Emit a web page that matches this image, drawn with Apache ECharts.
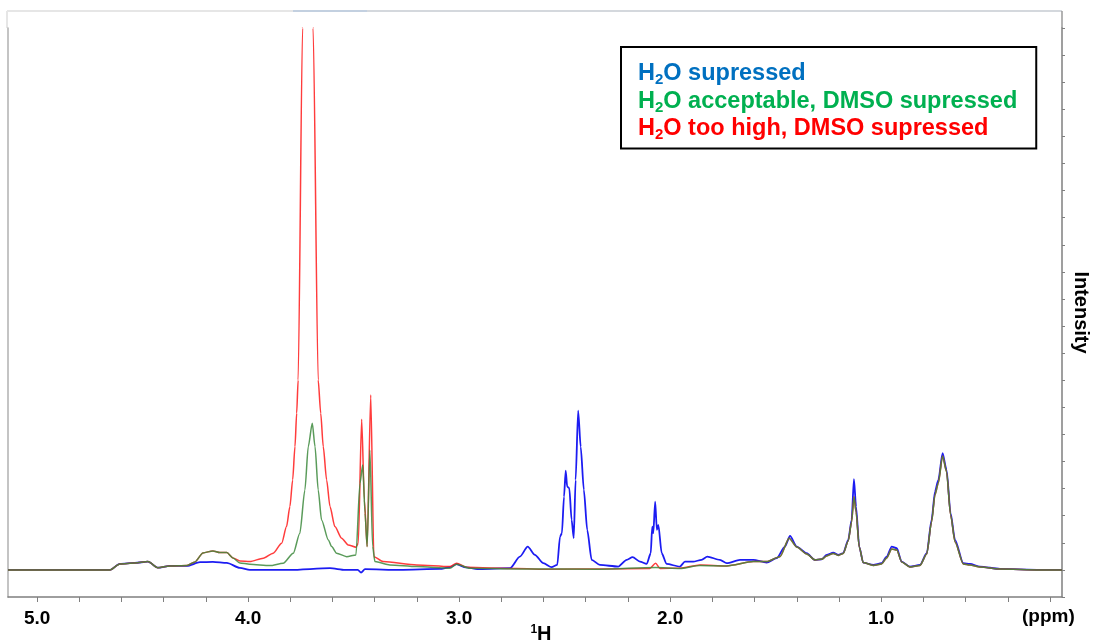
<!DOCTYPE html>
<html>
<head>
<meta charset="utf-8">
<script src="https://cdn.jsdelivr.net/npm/echarts@6/dist/echarts.min.js"></script>
<style>
html,body{margin:0;padding:0;background:#fff;}
#chart{width:1093px;height:642px;}
</style>
</head>
<body>
<div id="chart"></div>
<script>
// x: chemical shift (ppm), y: intensity (arbitrary units)
var xTickLabels = [1, 2, 3, 4, 5];
var xMinorTicks = [0.2,0.4,0.6,0.8,1.0,1.2,1.4,1.6,1.8,2.0,2.2,2.4,2.6,2.8,3.0,3.2,3.4,3.6,3.8,4.0,4.2,4.4,4.6,4.8,5.0];
var seriesNames = ['H2O supressed', 'H2O acceptable, DMSO supressed', 'H2O too high, DMSO supressed'];

var blueData = [[5.138,0],[4.892,0],[4.655,0],[4.608,1.11],[4.537,1.29],[4.475,1.53],[4.428,0.42],[4.371,0.74],[4.290,0.74],[4.228,1.42],[4.167,1.48],[4.101,1.29],[4.039,0.37],[3.992,0],[3.802,0],[3.612,0.31],[3.541,0],[3.480,0],[3.465,-0.5],[3.446,0.13],[3.281,0],[3.091,0.18],[3.044,0.5],[3.012,1.05],[2.968,0.46],[2.901,0.13],[2.759,0.31],[2.712,2.45],[2.675,4.30],[2.641,2.77],[2.601,1.24],[2.562,0.50],[2.535,0.92],[2.522,6.14],[2.513,6.77],[2.503,13.52],[2.495,18.32],[2.488,15.37],[2.478,15.07],[2.467,9.23],[2.457,5.85],[2.448,16.61],[2.436,29.39],[2.424,22.75],[2.409,14.76],[2.393,7.38],[2.372,1.85],[2.333,0.92],[2.246,0.61],[2.206,1.85],[2.178,2.34],[2.143,1.53],[2.111,1.11],[2.092,3.08],[2.085,7.99],[2.080,6.77],[2.071,12.60],[2.063,7.38],[2.056,8.30],[2.040,3.08],[2.017,1.11],[1.954,0.61],[1.930,1.53],[1.891,1.53],[1.851,1.85],[1.824,2.45],[1.764,1.85],[1.732,1.24],[1.669,1.85],[1.606,1.85],[1.543,1.35],[1.495,2.16],[1.456,4.30],[1.432,6.27],[1.400,4.30],[1.353,3.08],[1.314,1.85],[1.282,1.97],[1.258,2.77],[1.227,3.19],[1.203,2.77],[1.180,3.08],[1.156,5.54],[1.140,9.23],[1.129,16.73],[1.119,11.68],[1.104,4.30],[1.085,1.35],[1.037,0.92],[0.998,1.24],[0.974,2.45],[0.950,4.30],[0.926,4.00],[0.903,1.53],[0.864,0.61],[0.816,0.92],[0.784,3.08],[0.761,9.23],[0.745,14.45],[0.729,16.61],[0.709,21.53],[0.690,18.45],[0.671,10.46],[0.650,5.54],[0.611,1.24],[0.579,1.11],[0.532,0.61],[0.437,0.18],[0.247,0],[0.143,0]];

var greenData = [[5.138,0],[4.892,0],[4.655,0],[4.608,1.11],[4.537,1.29],[4.475,1.53],[4.428,0.42],[4.371,0.74],[4.290,0.83],[4.252,1.48],[4.214,3.14],[4.167,3.51],[4.134,3.19],[4.101,3.19],[4.072,2.21],[4.039,1.29],[3.992,1.05],[3.897,0.79],[3.834,1.24],[3.786,3.08],[3.755,6.77],[3.731,14.76],[3.715,22.75],[3.696,27.07],[3.683,22.75],[3.668,14.76],[3.652,9.23],[3.620,5.54],[3.604,4.30],[3.581,3.08],[3.533,2.45],[3.489,2.77],[3.470,16.00],[3.457,19.37],[3.446,10.46],[3.436,4.30],[3.423,22.14],[3.410,4.30],[3.399,1.53],[3.328,0.92],[3.201,0.61],[3.044,0.31],[3.012,1.05],[2.949,0.31],[2.728,0.18],[2.333,0.13],[2.069,0.46],[1.954,0.28],[1.859,0.83],[1.732,0.74],[1.606,1.53],[1.543,1.53],[1.480,2.45],[1.436,5.85],[1.400,4.24],[1.353,2.95],[1.314,1.85],[1.282,1.97],[1.258,2.58],[1.227,3.04],[1.203,2.68],[1.180,3.04],[1.156,5.35],[1.140,8.86],[1.129,13.52],[1.119,10.70],[1.104,4.24],[1.085,1.35],[1.037,0.83],[0.998,1.11],[0.974,2.21],[0.950,3.87],[0.926,3.69],[0.903,1.48],[0.864,0.55],[0.816,0.83],[0.784,2.95],[0.761,8.86],[0.745,13.84],[0.729,16.05],[0.709,21.03],[0.690,18.08],[0.671,10.15],[0.650,5.17],[0.611,1.11],[0.579,0.92],[0.532,0.55],[0.437,0.18],[0.247,0],[0.143,0]];

var redData = [[5.138,0],[4.892,0],[4.655,0],[4.608,1.11],[4.537,1.29],[4.475,1.53],[4.428,0.42],[4.371,0.74],[4.290,0.83],[4.252,1.48],[4.214,3.14],[4.167,3.51],[4.134,3.19],[4.101,3.19],[4.072,2.21],[4.039,1.66],[3.992,1.53],[3.928,2.16],[3.881,3.08],[3.841,4.93],[3.818,7.99],[3.802,11.68],[3.789,16.61],[3.778,22.75],[3.770,28.91],[3.763,35.06],[3.742,100],[3.717,178.2],[3.692,100],[3.668,35.06],[3.656,28.91],[3.644,22.75],[3.628,16.61],[3.612,11.68],[3.589,7.99],[3.557,5.85],[3.526,4.61],[3.489,4.19],[3.478,4.93],[3.462,27.80],[3.449,12.92],[3.436,4.30],[3.419,32.29],[3.404,2.45],[3.360,1.53],[3.201,0.92],[3.044,0.61],[3.012,1.24],[2.965,0.50],[2.728,0.24],[2.570,0.13],[2.333,0.18],[2.096,0.28],[2.069,1.24],[2.048,0.28],[1.954,0.31],[1.859,0.92],[1.732,0.74],[1.606,1.53],[1.543,1.53],[1.480,2.45],[1.436,5.85],[1.400,4.24],[1.353,2.95],[1.314,1.85],[1.282,1.97],[1.258,2.58],[1.227,3.04],[1.203,2.68],[1.180,3.04],[1.156,5.35],[1.140,8.86],[1.129,13.52],[1.119,10.70],[1.104,4.24],[1.085,1.35],[1.037,0.83],[0.998,1.11],[0.974,2.21],[0.950,3.87],[0.926,3.69],[0.903,1.48],[0.864,0.55],[0.816,0.83],[0.784,2.95],[0.761,8.86],[0.745,13.84],[0.729,16.05],[0.709,21.03],[0.690,18.08],[0.671,10.15],[0.650,5.17],[0.611,1.11],[0.579,0.92],[0.532,0.55],[0.437,0.18],[0.247,0],[0.143,0]];

var chart = echarts.init(document.getElementById('chart'), null, {renderer: 'canvas'});
var FONT = 'Liberation Sans, Arial, sans-serif';

function legendFmt(name) {
  return name.replace('H2O', 'H{s|2}O');
}

var option = {
  backgroundColor: '#ffffff',
  animation: false,
  grid: {left: 8, right: 31, top: 28, bottom: 45, containLabel: false, outerBoundsMode: 'none'},
  legend: {
    show: true,
    left: 621, top: 47,
    orient: 'vertical',
    icon: 'none',
    itemWidth: 0, itemHeight: 0,
    itemGap: 2,
    padding: [15, 19, 6, 12],
    borderColor: '#000', borderWidth: 2,
    backgroundColor: '#fff',
    selectedMode: false,
    formatter: legendFmt,
    textStyle: {
      fontFamily: FONT, fontSize: 23.5, fontWeight: 'bold', lineHeight: 24,
      rich: {s: {fontFamily: FONT, fontSize: 15, fontWeight: 'bold', padding: [12, 0, 0, 0]}}
    },
    data: [
      {name: seriesNames[0], textStyle: {color: '#0070C0'}},
      {name: seriesNames[1], textStyle: {color: '#00B050'}},
      {name: seriesNames[2], textStyle: {color: '#FF0000'}}
    ]
  },
  xAxis: {
    type: 'value', inverse: true, min: 0.143, max: 5.138,
    name: '{s|1}H', nameLocation: 'middle', nameGap: 27, nameMoveOverlap: false,
    nameTextStyle: {fontFamily: FONT, fontSize: 20, fontWeight: 'bold', color: '#000', padding: [0, 0, 0, 12],
      rich: {s: {fontFamily: FONT, fontSize: 12, fontWeight: 'bold', color: '#000', padding: [0, 0, 8, 0]}}},
    axisLine: {show: true, onZero: false, lineStyle: {color: '#7f7f7f', width: 1.5}},
    axisTick: {show: true, length: 5, customValues: xMinorTicks, lineStyle: {color: '#7f7f7f'}},
    axisLabel: {show: true, customValues: xTickLabels, margin: 12,
      formatter: function (v) { return v.toFixed(1); },
      fontFamily: FONT, fontSize: 19, fontWeight: 'bold', color: '#000'},
    splitLine: {show: false}
  },
  yAxis: [{
    type: 'value', position: 'right', min: -5, max: 100, interval: 5,
    name: 'Intensity', nameLocation: 'middle', nameRotate: -90, nameGap: 9, nameMoveOverlap: false,
    nameTextStyle: {fontFamily: FONT, fontSize: 20, fontWeight: 'bold', color: '#000'},
    axisLine: {show: true, lineStyle: {color: '#7f7f7f', width: 1.5}},
    axisTick: {show: true, inside: false, length: 3, lineStyle: {color: '#7f7f7f'}},
    axisLabel: {show: false},
    splitLine: {show: false}
  }, {
    type: 'value', position: 'left', min: -5, max: 100, interval: 5,
    axisLine: {show: true, lineStyle: {color: '#b0b0b0', width: 1.5}},
    axisTick: {show: false}, axisLabel: {show: false}, splitLine: {show: false}
  }],
  graphic: [
    {type: 'line', shape: {x1: 7, y1: 11, x2: 293, y2: 11}, style: {stroke: '#e6e6e6', lineWidth: 2}, silent: true},
    {type: 'line', shape: {x1: 293, y1: 11, x2: 367, y2: 11}, style: {stroke: '#c3d0e0', lineWidth: 2}, silent: true},
    {type: 'line', shape: {x1: 367, y1: 11, x2: 1062, y2: 11}, style: {stroke: '#d4d8dd', lineWidth: 2}, silent: true},
    {type: 'line', shape: {x1: 7, y1: 11, x2: 7, y2: 28}, style: {stroke: '#e6e6e6', lineWidth: 2}, silent: true},
    {type: 'line', shape: {x1: 1062, y1: 11, x2: 1062, y2: 28}, style: {stroke: '#9a9a9a', lineWidth: 1.5}, silent: true},
    {type: 'text', left: 1022, top: 607, silent: true,
      style: {text: '(ppm)', fontFamily: FONT, fontSize: 19, fontWeight: 'bold', fill: '#000'}}
  ],
  series: [
    {name: seriesNames[0], type: 'line', data: blueData, showSymbol: false, symbol: 'none',
      smooth: 0.25, smoothMonotone: 'x',
      yAxisIndex: 0, lineStyle: {color: '#1c1cf2', width: 1.8}, itemStyle: {color: '#0070C0'}, clip: true, z: 2},
    {name: seriesNames[2], type: 'line', data: redData, showSymbol: false, symbol: 'none',
      smooth: 0.25, smoothMonotone: 'x',
      yAxisIndex: 0, lineStyle: {color: '#ff1a1a', width: 1.5, opacity: 0.85}, itemStyle: {color: '#FF0000'}, clip: true, z: 3},
    {name: seriesNames[1], type: 'line', data: greenData, showSymbol: false, symbol: 'none',
      smooth: 0.25, smoothMonotone: 'x',
      yAxisIndex: 0, lineStyle: {color: '#3d8a3d', width: 1.5, opacity: 0.85}, itemStyle: {color: '#00B050'}, clip: true, z: 4}
  ]
};
chart.setOption(option);
</script>
</body>
</html>
